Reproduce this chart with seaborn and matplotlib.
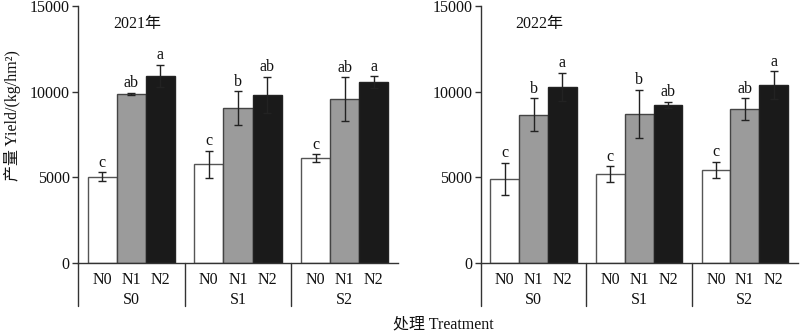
import matplotlib
matplotlib.use("Agg")
import matplotlib.pyplot as plt
import seaborn as sns
import pandas as pd
import numpy as np

sns.set_theme(style="white")
plt.rcParams['font.family'] = ['Liberation Serif', 'Noto Sans CJK SC']

groups = ["S0", "S1", "S2"]
levels = ["N0", "N1", "N2"]

yield_2021 = [5050, 9870, 10920, 5770, 9050, 9810, 6120, 9560, 10550]
err_2021 = [250, 50, 650, 780, 970, 1070, 230, 1280, 350]
sig_2021 = ["c", "ab", "a", "c", "b", "ab", "c", "ab", "a"]

yield_2022 = [4900, 8665, 10300, 5190, 8700, 9230, 5440, 8995, 10375]
err_2022 = [930, 950, 820, 450, 1400, 170, 450, 620, 815]
sig_2022 = ["c", "b", "a", "c", "b", "ab", "c", "ab", "a"]

years = ["2021年", "2022年"]
yticks = [0, 5000, 10000, 15000]

palette = {"N0": "#ffffff", "N1": "#9b9b9b", "N2": "#1a1a1a"}
edges = {"N0": "#555555", "N1": "#444444", "N2": "#222222"}

fig = plt.figure(figsize=(8, 3.34), dpi=100)
ax1 = fig.add_axes([0.0975, 0.2126, 0.400, 0.769])
ax2 = fig.add_axes([0.601, 0.2126, 0.396, 0.769])

fs = 11.5

for ax, vals, errs, sigs, yr in [(ax1, yield_2021, err_2021, sig_2021, years[0]),
                                  (ax2, yield_2022, err_2022, sig_2022, years[1])]:
    S = [g for g in groups for _ in levels]
    N = [n for _ in groups for n in levels]
    df = pd.DataFrame({"S": S, "N": N, "Yield": vals})
    sns.barplot(data=df, x="S", y="Yield", hue="N", order=groups, hue_order=levels,
                palette=palette, width=0.82, errorbar=None, ax=ax, legend=False,
                linewidth=1.0, edgecolor="#333333", saturation=1)
    bars = [p for p in ax.patches if p.get_height() > 0]
    info = []
    for p in bars:
        info.append((p.get_x() + p.get_width() / 2, p.get_height(), p))
    info.sort(key=lambda t: t[0])
    for (xc, h, p), e, s, n in zip(info, errs, sigs, N):
        p.set_edgecolor(edges[n])
        ax.errorbar(xc, h, yerr=e, fmt="none", ecolor="#222222", elinewidth=1.0,
                    capsize=3, capthick=1.0, zorder=5)
        ax.text(xc, h + e + 100, s, ha="center", va="bottom", fontsize=fs, color="#111111")
        ax.text(xc, -550, n, ha="center", va="top", fontsize=fs, color="#111111")
    for i, g in enumerate(groups):
        ax.text(i, -1700, g, ha="center", va="top", fontsize=fs, color="#111111")
    ax.set_ylim(0, 15000)
    ax.set_xlim(-0.5, 2.5)
    ax.set_yticks(yticks)
    ax.set_yticklabels([str(t) for t in yticks], fontsize=fs, color="#111111")
    ax.set_xticks([])
    ax.set_xlabel("")
    ax.set_ylabel("")
    for sp in ["top", "right"]:
        ax.spines[sp].set_visible(False)
    for sp in ["left", "bottom"]:
        ax.spines[sp].set_color("#333333")
        ax.spines[sp].set_linewidth(1.0)
    ax.tick_params(axis="y", direction="out", length=4, width=1.0, color="#333333",
                   left=True, pad=2)
    trans = ax.get_xaxis_transform()
    for xs in [-0.5, 0.5, 1.5]:
        ax.plot([xs, xs], [0, -0.168], transform=trans, color="#333333", lw=1.0,
                clip_on=False)
    ax.text(0.11, 0.93, yr, transform=ax.transAxes, fontsize=fs, ha="left", va="center",
            color="#111111")

fig.text(0.015, 0.655, "产量 Yield/(kg/hm²)", rotation=90, ha="center", va="center",
         fontsize=fs, color="#111111")
fig.text(0.554, 0.027, "处理 Treatment", ha="center", va="center", fontsize=fs,
         color="#111111")

fig.savefig("out.png", dpi=100)
